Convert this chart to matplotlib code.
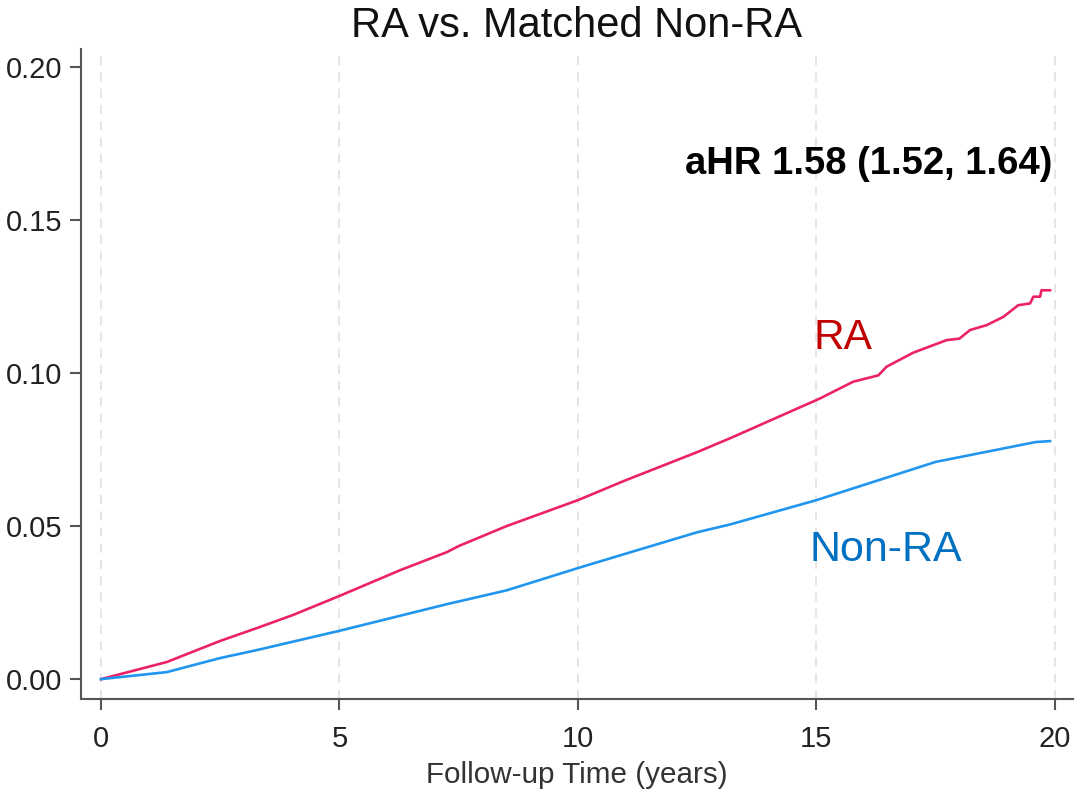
import matplotlib
matplotlib.use('Agg')
import matplotlib.pyplot as plt

plt.rcParams['font.family'] = ['Liberation Sans', 'DejaVu Sans']

# cumulative incidence (time in years)
ra_time = [0, 1.38, 2.5, 3.27, 4.03, 5.0, 6.27, 7.25, 7.5, 8.5, 10.0, 11.0,
           12.5, 13.2, 15.07, 15.77, 16.3, 16.47, 17.03, 17.73, 18.0, 18.22,
           18.57, 18.92, 19.23, 19.48, 19.55, 19.69, 19.72, 19.9]
ra_inc = [0, 0.0056, 0.0125, 0.0167, 0.021, 0.0272, 0.0356, 0.0415, 0.0435, 0.050,
          0.0585, 0.065, 0.0742, 0.0788, 0.0917, 0.0972, 0.0993, 0.1021, 0.1067,
          0.1108, 0.1113, 0.1141, 0.1157, 0.1184, 0.1222, 0.1228, 0.125, 0.125,
          0.1271, 0.1271]

nonra_time = [0, 1.38, 2.5, 3.27, 5.0, 7.25, 8.5, 10.0, 11.0, 12.5, 13.2, 15.0,
              17.5, 19.6, 19.9]
nonra_inc = [0, 0.0023, 0.0069, 0.0095, 0.0158, 0.0245, 0.029, 0.0363, 0.041,
             0.048, 0.0506, 0.0585, 0.071, 0.0775, 0.0778]

xticks = [0, 5, 10, 15, 20]
yticks = [0.00, 0.05, 0.10, 0.15, 0.20]

fig = plt.figure(figsize=(10.8, 7.93), dpi=100)
ax = fig.add_axes([0.075, 0.1185, 0.9185, 0.8195])

for x in xticks:
    ax.axvline(x, color='#e3e3e3', lw=1.3, linestyle=(0, (5, 4)), zorder=0)

ax.plot(ra_time, ra_inc, color='#ec2266', lw=1.9)
ax.plot(nonra_time, nonra_inc, color='#2196f0', lw=1.9)

ax.text(14.93, 0.1078, 'RA', color='#c00000', fontsize=30.5, ha='left', va='baseline')
ax.text(14.86, 0.0386, 'Non-RA', color='#0070c0', fontsize=31, ha='left', va='baseline')
ax.text(19.94, 0.165, 'aHR 1.58 (1.52, 1.64)', color='black', fontsize=27.5,
        fontweight='bold', ha='right', va='baseline')

ax.set_xlim(-0.42, 20.38)
ax.set_ylim(-0.0065, 0.2059)
ax.set_xticks(xticks)
ax.set_xticklabels([str(x) for x in xticks])
ax.set_yticks(yticks)
ax.set_yticklabels(['%.2f' % y for y in yticks])

for side in ('top', 'right'):
    ax.spines[side].set_visible(False)
for side in ('left', 'bottom'):
    ax.spines[side].set_color('#555555')
    ax.spines[side].set_linewidth(1.5)

ax.tick_params(axis='both', colors='#555555', width=1.5, length=8, labelsize=21,
               labelcolor='#222222')
ax.tick_params(axis='x', pad=10.5)
ax.tick_params(axis='y', pad=5.5)

ax.set_xlabel('Follow-up Time (years)', fontsize=21.3, color='#333333', labelpad=6)
ax.set_title('RA vs. Matched Non-RA', fontsize=30, color='#111111', pad=9)

fig.savefig('out.png', dpi=100)
